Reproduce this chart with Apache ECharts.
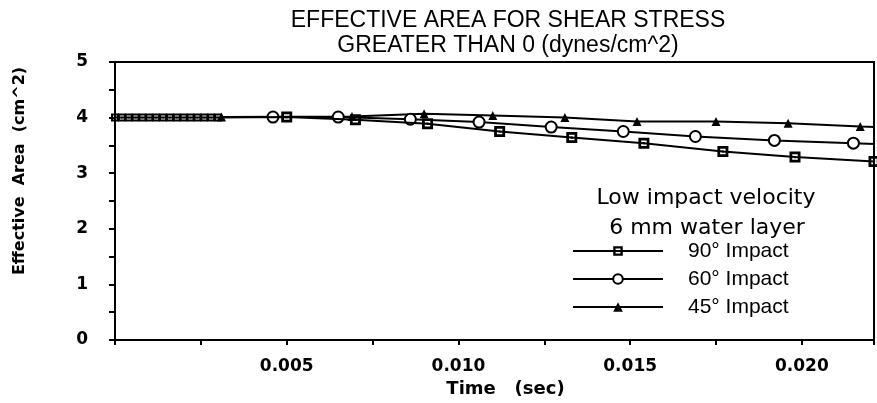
<!DOCTYPE html>
<html>
<head>
<meta charset="utf-8">
<script src="https://cdn.jsdelivr.net/npm/echarts@6/dist/echarts.min.js"></script>
<style>
  html, body { margin: 0; padding: 0; background: #fff; }
  #chart { width: 877px; height: 403px; }
</style>
</head>
<body>
<div id="chart"></div>
<script>
// [time (sec), effective area (cm^2)]
const impact90 = [
  [0.0000, 4.0], [0.0002, 4.0], [0.0004, 4.0], [0.0006, 4.0], [0.0008, 4.0],
  [0.0010, 4.0], [0.0012, 4.0], [0.0014, 4.0], [0.0016, 4.0], [0.0018, 4.0],
  [0.0020, 4.0], [0.0022, 4.0], [0.0024, 4.0], [0.0026, 4.0], [0.0028, 4.0],
  [0.0030, 4.0],
  [0.0050, 4.01], [0.0070, 3.96], [0.0091, 3.89], [0.0112, 3.75], [0.0133, 3.64],
  [0.0154, 3.54], [0.0177, 3.39], [0.0198, 3.29], [0.0221, 3.21]
];
const impact60 = [
  [0.0046, 4.01], [0.0065, 4.01], [0.0086, 3.97], [0.0106, 3.92], [0.0127, 3.83],
  [0.0148, 3.75], [0.0169, 3.66], [0.0192, 3.59], [0.0215, 3.54], [0.0232, 3.50]
];
const impact45 = [
  [0.0031, 4.01], [0.0069, 4.02], [0.0090, 4.07], [0.0110, 4.04], [0.0131, 4.00],
  [0.0152, 3.93], [0.0175, 3.93], [0.0196, 3.90], [0.0217, 3.84], [0.0232, 3.81]
];
const seriesNames = ['90° Impact', '60° Impact', '45° Impact'];
const xLabelValues = [0.005, 0.010, 0.015, 0.020];
const yLabelValues = [0, 1, 2, 3, 4, 5];

const boldFont = 'DejaVu Sans';
const squareDot = 'path://M0,0L10,0L10,10L0,10Z M2.5,2.5L2.5,7.5L7.5,7.5L7.5,2.5Z M4,4L6,4L6,6L4,6Z';

function near(v, list) {
  return list.some(t => Math.abs(v - t) < 1e-7);
}

const chart = echarts.init(document.getElementById('chart'));
chart.setOption({
  animation: false,
  backgroundColor: '#fff',
  title: {
    text: 'EFFECTIVE AREA FOR SHEAR STRESS\nGREATER THAN 0 (dynes/cm^2)',
    left: 503,
    top: 3,
    textAlign: 'center',
    textStyle: {
      fontFamily: 'Liberation Sans',
      fontWeight: 'normal',
      fontSize: 23,
      lineHeight: 25,
      color: '#000'
    }
  },
  graphic: [
    {
      type: 'text', x: 20, y: 171, rotation: Math.PI / 2,
      style: {
        text: 'Effective  Area  (cm^2)', align: 'center', verticalAlign: 'middle',
        font: 'bold 16px "DejaVu Sans"', fill: '#000'
      }
    },
    {
      type: 'text', x: 706, y: 198,
      style: {
        text: 'Low impact velocity', align: 'center', verticalAlign: 'middle',
        font: '22px "DejaVu Sans"', fill: '#000'
      }
    },
    {
      type: 'text', x: 707, y: 228,
      style: {
        text: '6 mm water layer', align: 'center', verticalAlign: 'middle',
        font: '22px "DejaVu Sans"', fill: '#000'
      }
    }
  ],
  legend: {
    orient: 'vertical',
    left: 567,
    top: 232,
    itemWidth: 90,
    itemHeight: 12,
    itemGap: 0,
    data: seriesNames,
    textStyle: {
      fontFamily: 'Liberation Sans',
      fontSize: 21,
      lineHeight: 28,
      color: '#000',
      padding: [0, 0, 0, 20]
    }
  },
  grid: {
    left: 115, right: 3, top: 62, bottom: 62,
    show: true, borderColor: '#000', borderWidth: 2
  },
  xAxis: {
    type: 'value',
    min: 0, max: 0.0221, interval: 0.0025,
    name: 'Time   (sec)',
    nameLocation: 'middle',
    nameGap: 40,
    nameTextStyle: {
      fontFamily: boldFont, fontWeight: 'bold', fontSize: 18, color: '#000',
      padding: [0, 0, 0, 22]
    },
    axisLine: { lineStyle: { color: '#000', width: 2 } },
    axisTick: { length: 5, lineStyle: { color: '#000', width: 2 } },
    splitLine: { show: false },
    axisLabel: {
      margin: 18,
      fontFamily: boldFont, fontWeight: 'bold', fontSize: 17, color: '#000',
      formatter: v => near(v, xLabelValues) ? v.toFixed(3) : ''
    }
  },
  yAxis: {
    type: 'value',
    min: 0, max: 5, interval: 0.5,
    axisLine: { show: true, lineStyle: { color: '#000', width: 2 } },
    axisTick: { show: true, length: 6, lineStyle: { color: '#000', width: 2 } },
    splitLine: { show: false },
    axisLabel: {
      margin: 27,
      fontFamily: boldFont, fontWeight: 'bold', fontSize: 17, color: '#000',
      formatter: v => near(v, yLabelValues) ? String(Math.round(v)) : ''
    }
  },
  series: [
    {
      name: seriesNames[0], type: 'line', data: impact90,
      symbol: squareDot,
      symbolSize: v => v[0] < 0.004 ? 8 : 11,
      lineStyle: { color: '#000', width: 2 },
      itemStyle: { color: '#000' },
      z: 4
    },
    {
      name: seriesNames[1], type: 'line', data: impact60,
      symbol: 'circle', symbolSize: 11,
      lineStyle: { color: '#000', width: 2 },
      itemStyle: { color: '#fff', borderColor: '#000', borderWidth: 2 },
      z: 3
    },
    {
      name: seriesNames[2], type: 'line', data: impact45,
      symbol: 'triangle', symbolSize: 9,
      lineStyle: { color: '#000', width: 2 },
      itemStyle: { color: '#000' },
      z: 3
    }
  ]
});
</script>
</body>
</html>
